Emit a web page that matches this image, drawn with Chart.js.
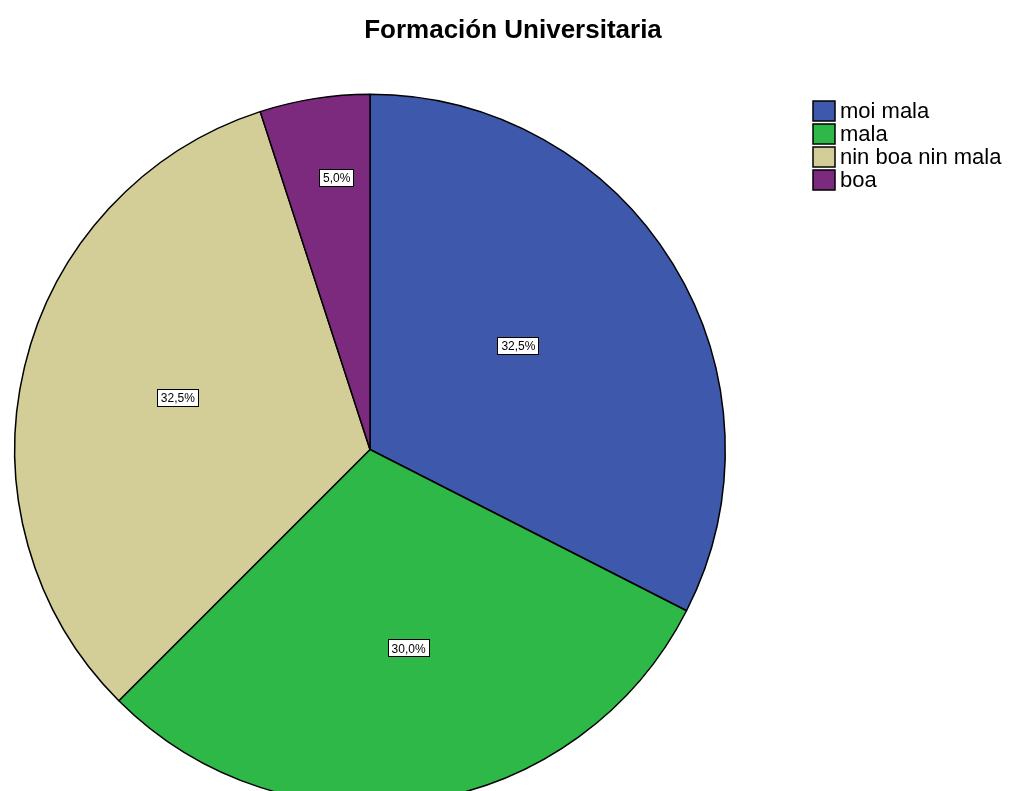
<!DOCTYPE html>
<html>
<head>
<meta charset="utf-8">
<script src="https://cdn.jsdelivr.net/npm/chart.js@4.4.0/dist/chart.umd.min.js"></script>
<style>
  html, body { margin: 0; padding: 0; background: #fff; overflow: hidden; }
  #wrap { position: relative; width: 1024px; height: 810px; }
</style>
</head>
<body>
<div id="wrap"><canvas id="pie_chart"></canvas></div>
<script>
// data
var chartTitle = 'Formación Universitaria';
var categories = ['moi mala', 'mala', 'nin boa nin mala', 'boa'];
var percents = [32.5, 30.0, 32.5, 5.0];
var sliceLabels = ['32,5%', '30,0%', '32,5%', '5,0%'];
var sliceColors = ['#3e58ac', '#2eb848', '#d3ce97', '#7b2a7d'];

// where each percent box sits inside its slice
var labelRadius = [0.51, 0.57, 0.56, 0.77];
var labelShift = [-3.5, -2, 1.5, 2];

var fontFam = '"Liberation Sans", Arial, sans-serif';

// title centred on the whole canvas, not on the pie area
var pageTitlePlugin = {
    id: 'pageTitle',
    afterDraw: function (chart) {
        var ctx = chart.ctx;
        ctx.save();
        ctx.font = 'bold 26px ' + fontFam;
        ctx.fillStyle = '#000';
        ctx.textAlign = 'center';
        ctx.textBaseline = 'middle';
        ctx.fillText(chartTitle, chart.width / 2 + 1, 31);
        ctx.restore();
    }
};

var sliceLabelPlugin = {
    id: 'sliceLabels',
    afterDatasetsDraw: function (chart) {
        var ctx = chart.ctx;
        var meta = chart.getDatasetMeta(0);
        ctx.save();
        ctx.font = '12px ' + fontFam;
        ctx.textAlign = 'center';
        ctx.textBaseline = 'middle';
        meta.data.forEach(function (arc, i) {
            var p = arc.getProps(['x', 'y', 'startAngle', 'endAngle', 'outerRadius'], true);
            var a = (p.startAngle + p.endAngle) / 2 + labelShift[i] * Math.PI / 180;
            var r = p.outerRadius * labelRadius[i];
            var x = p.x + Math.cos(a) * r;
            var y = p.y + Math.sin(a) * r;
            var txt = sliceLabels[i];
            var w = ctx.measureText(txt).width + 8;
            var h = 18;
            ctx.fillStyle = '#fff';
            ctx.fillRect(Math.round(x - w / 2), Math.round(y - h / 2), Math.round(w), h);
            ctx.strokeStyle = '#000';
            ctx.lineWidth = 1;
            ctx.strokeRect(Math.round(x - w / 2) + 0.5, Math.round(y - h / 2) + 0.5, Math.round(w) - 1, h - 1);
            ctx.fillStyle = '#000';
            ctx.fillText(txt, x, y + 1);
        });
        ctx.restore();
    }
};

var sideLegendPlugin = {
    id: 'sideLegend',
    afterDraw: function (chart) {
        var ctx = chart.ctx;
        var ds = chart.data.datasets[0];
        var x0 = 813, y0 = 101, step = 23;
        ctx.save();
        ctx.font = '22px ' + fontFam;
        ctx.textBaseline = 'middle';
        chart.data.labels.forEach(function (lab, i) {
            var y = y0 + i * step;
            ctx.fillStyle = ds.backgroundColor[i];
            ctx.fillRect(x0, y, 22, 20);
            ctx.strokeStyle = '#000';
            ctx.lineWidth = 1.5;
            ctx.strokeRect(x0, y, 22, 20);
            ctx.fillStyle = '#000';
            ctx.fillText(lab, x0 + 27, y + 11);
        });
        ctx.restore();
    }
};

var ctxPie = document.getElementById('pie_chart').getContext('2d');

var myPieChart = new Chart(ctxPie, {
    type: 'pie',
    data: {
        labels: categories,
        datasets: [
            {
                data: percents,
                backgroundColor: sliceColors,
                borderColor: '#000',
                borderWidth: 1.5
            }
        ]
    },
    options: {
        responsive: true,
        maintainAspectRatio: false,
        animation: false,
        layout: {
            padding: { left: 14, right: 298, top: 93, bottom: 4 }
        },
        plugins: {
            legend: { display: false },
            tooltip: { enabled: false },
            title: { display: false }
        }
    },
    plugins: [sliceLabelPlugin, sideLegendPlugin, pageTitlePlugin]
});
</script>
</body>
</html>
